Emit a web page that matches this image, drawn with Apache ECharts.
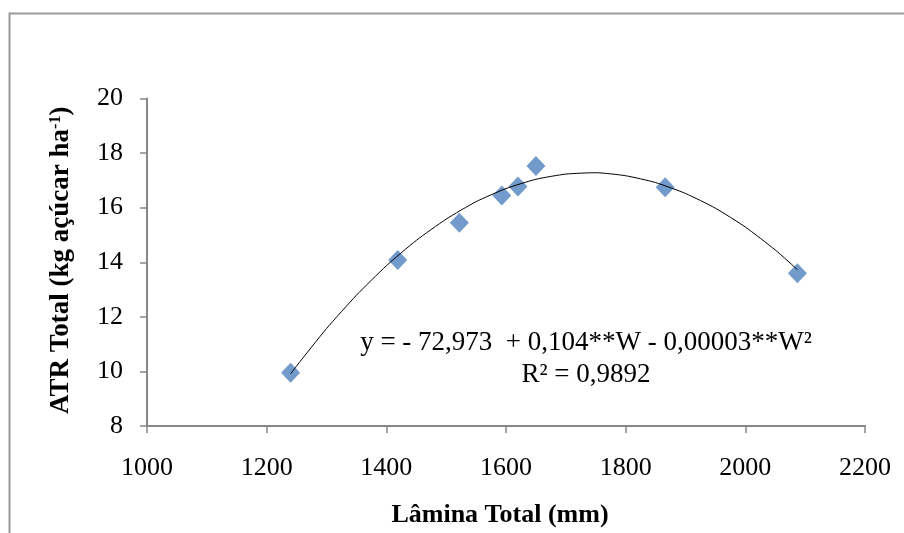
<!DOCTYPE html>
<html>
<head>
<meta charset="utf-8">
<script src="https://cdn.jsdelivr.net/npm/echarts@6/dist/echarts.min.js"></script>
<style>
  html, body { margin: 0; padding: 0; background: #fff; }
  #chart { width: 904px; height: 533px; }
</style>
</head>
<body>
<div id="chart"></div>
<script>
// valores
const laminaTotal = [1240, 1419, 1522, 1593, 1620, 1650, 1866, 2087];
const atrTotal = [9.95, 14.08, 15.45, 16.45, 16.78, 17.53, 16.75, 13.6];

// linha de tendência
const trendX = [1240, 1250, 1300, 1350, 1400, 1450, 1500, 1550, 1600, 1650, 1700, 1750,
    1800, 1850, 1900, 1950, 2000, 2050, 2087];
const trendY = [9.91, 10.2, 11.57, 12.79, 13.87, 14.8, 15.58, 16.22, 16.7, 17.04, 17.23, 17.28,
    17.17, 16.92, 16.52, 15.98, 15.29, 14.45, 13.73];

const equacao = 'y = - 72,973  + 0,104**W - 0,00003**W²';
const r2 = 'R² = 0,9892';

const chart = echarts.init(document.getElementById('chart'));
const serif = '"Liberation Serif", "Times New Roman", serif';
const axisGray = '#878787';

const option = {
    animation: false,
    backgroundColor: '#fff',
    grid: {
        left: 147,
        right: 39,
        top: 98.5,
        bottom: 103
    },
    xAxis: {
        type: 'value',
        min: 1000,
        max: 2200,
        interval: 200,
        name: 'Lâmina Total (mm)',
        nameLocation: 'middle',
        nameGap: 76,
        nameTextStyle: {
            fontFamily: serif,
            fontWeight: 'bold',
            fontSize: 26,
            color: '#000',
            padding: [0, 12, 0, 0]
        },
        axisLine: { lineStyle: { color: axisGray, width: 2 } },
        axisTick: { show: true, inside: false, length: 7, lineStyle: { color: axisGray, width: 1.5 } },
        axisLabel: {
            fontFamily: serif,
            fontSize: 26,
            color: '#000',
            margin: 29,
            formatter: v => String(v)
        },
        splitLine: { show: false }
    },
    yAxis: {
        type: 'value',
        min: 8,
        max: 20,
        interval: 2,
        name: '{a|ATR Total (kg açúcar ha}{s|-1}{a|)}',
        nameLocation: 'middle',
        nameGap: 72,
        nameTextStyle: {
            rich: {
                a: { fontFamily: serif, fontWeight: 'bold', fontSize: 27, color: '#000' },
                s: { fontFamily: serif, fontWeight: 'bold', fontSize: 16, color: '#000', verticalAlign: 'top', padding: [0, 0, 10, 0] }
            },
            padding: [0, 0, 0, 4]
        },
        axisLine: { show: true, lineStyle: { color: axisGray, width: 2 } },
        axisTick: { show: true, inside: false, length: 7, lineStyle: { color: axisGray, width: 1.5 } },
        axisLabel: {
            fontFamily: serif,
            fontSize: 26,
            color: '#000',
            margin: 24
        },
        splitLine: { show: false }
    },
    series: [
        {
            name: 'Tendência',
            type: 'line',
            data: trendX.map((x, i) => [x, trendY[i]]),
            smooth: 0.2,
            showSymbol: false,
            lineStyle: { color: '#000', width: 1 },
            z: 3
        },
        {
            name: 'ATR',
            type: 'scatter',
            data: laminaTotal.map((x, i) => [x, atrTotal[i]]),
            symbol: 'diamond',
            symbolSize: [19, 20],
            itemStyle: { color: '#4F81BD' },
            z: 2
        }
    ],
    graphic: [
        {
            type: 'rect',
            shape: { x: 9.5, y: 13.5, width: 1000, height: 1000 },
            style: { fill: 'none', stroke: '#9a9a9a', lineWidth: 2 },
            silent: true
        },
        {
            type: 'text',
            style: {
                text: equacao,
                x: 586,
                y: 343,
                align: 'center',
                verticalAlign: 'middle',
                font: '27px ' + serif,
                fill: '#000'
            }
        },
        {
            type: 'text',
            style: {
                text: r2,
                x: 586,
                y: 375,
                align: 'center',
                verticalAlign: 'middle',
                font: '27px ' + serif,
                fill: '#000'
            }
        }
    ]
};

chart.setOption(option);
</script>
</body>
</html>
